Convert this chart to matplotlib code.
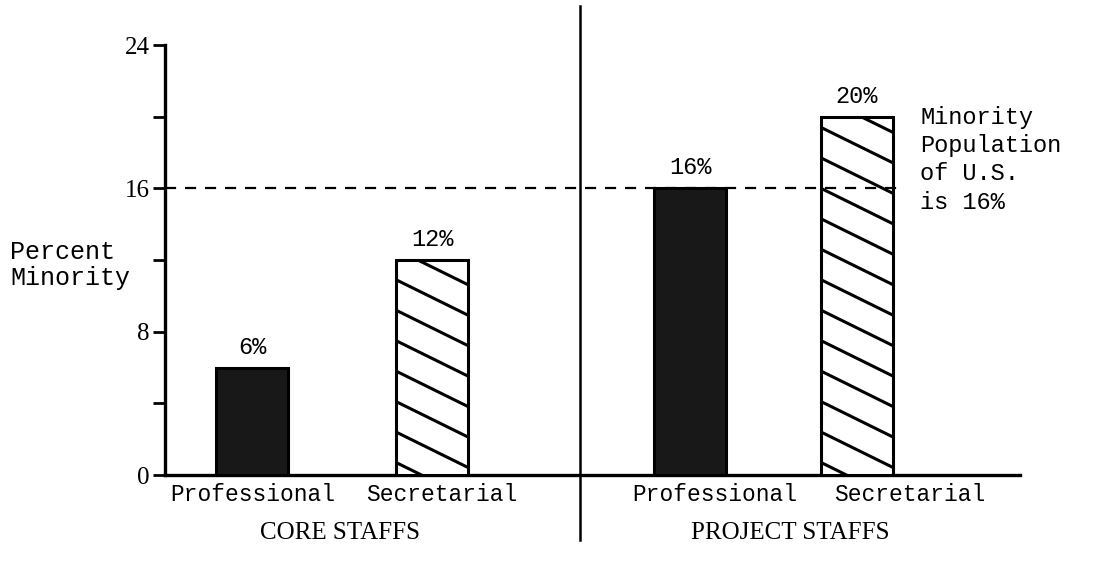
import numpy as np
import matplotlib
matplotlib.use("Agg")
import matplotlib.pyplot as plt

# values
groups = ["CORE STAFFS", "PROJECT STAFFS"]
categories = ["Professional", "Secretarial", "Professional", "Secretarial"]
values = [6, 12, 16, 20]
us_minority = 16
yticks = [0, 4, 8, 12, 16, 20, 24]
ytick_labels = ["0", "", "8", "", "16", "", "24"]
note = "Minority\nPopulation\nof U.S.\nis 16%"

mono = ["Liberation Mono", "DejaVu Sans Mono"]
serif = ["Liberation Serif", "DejaVu Serif"]

fig = plt.figure(figsize=(11.06, 5.65), dpi=100)
ax = fig.add_axes([165 / 1106, 90 / 565, 855 / 1106, 430 / 565])

# layout (x in units of 100 px)
pos = [0.87, 2.67, 5.25, 6.92]
label_pos = [0.88, 2.77, 5.50, 7.45]
group_pos = [1.75, 6.25]
width = 0.72
divider = 4.15

colors = ["#181818", "white", "#181818", "white"]
bars = ax.bar(pos, values, width=width, color=colors, edgecolor="black",
              linewidth=2.2, zorder=3)

# shallow diagonal hatching on the secretarial bars
slope = -2.75
step = 1.7
for b in bars:
    if b.get_facecolor()[0] < 0.5:
        continue
    x0 = b.get_x()
    x1 = x0 + b.get_width()
    top = b.get_height()
    for c in np.arange(-1.0, top + 4, step):
        ln, = ax.plot([x0, x1], [c, c + slope * (x1 - x0)], color="black",
                      lw=2.2, zorder=4)
        ln.set_clip_path(b)

for p, v in zip(pos, values):
    ax.text(p, v + 0.5, f"{v}%", ha="center", va="bottom", fontsize=17,
            family=mono)

# US minority reference line
ax.hlines(us_minority, 0, 7.4, colors="black", linestyles=(0, (5, 4)),
          lw=1.6, zorder=5)
ax.text(7.55, 17.6, note, ha="left", va="center", fontsize=17,
        family=mono, linespacing=1.3)

# divider between the two staff groups
ax.axvline(divider, ymin=-0.15, ymax=1.09, color="black", lw=1.8,
           clip_on=False)

ax.set_xlim(0, 8.55)
ax.set_ylim(0, 24)
for s in ["top", "right"]:
    ax.spines[s].set_visible(False)
ax.spines["left"].set_linewidth(2.4)
ax.spines["bottom"].set_linewidth(2.4)

ax.set_yticks(yticks, ytick_labels, fontsize=18, family=serif)
ax.tick_params(axis="y", direction="out", length=9, width=2, pad=2)
ax.set_xticks(label_pos, categories, fontsize=16.5, family=mono)
ax.tick_params(axis="x", length=0, pad=6)

trans = ax.get_xaxis_transform()
for gx, g in zip(group_pos, groups):
    ax.text(gx, -0.135, g, transform=trans, ha="center", va="center",
            fontsize=18, family=serif)

fig.text(10 / 1106, 1 - 265 / 565, "Percent\nMinority", ha="left",
         va="center", fontsize=18, family=mono, linespacing=1.15)

fig.savefig("out.png", dpi=100, facecolor="white")
